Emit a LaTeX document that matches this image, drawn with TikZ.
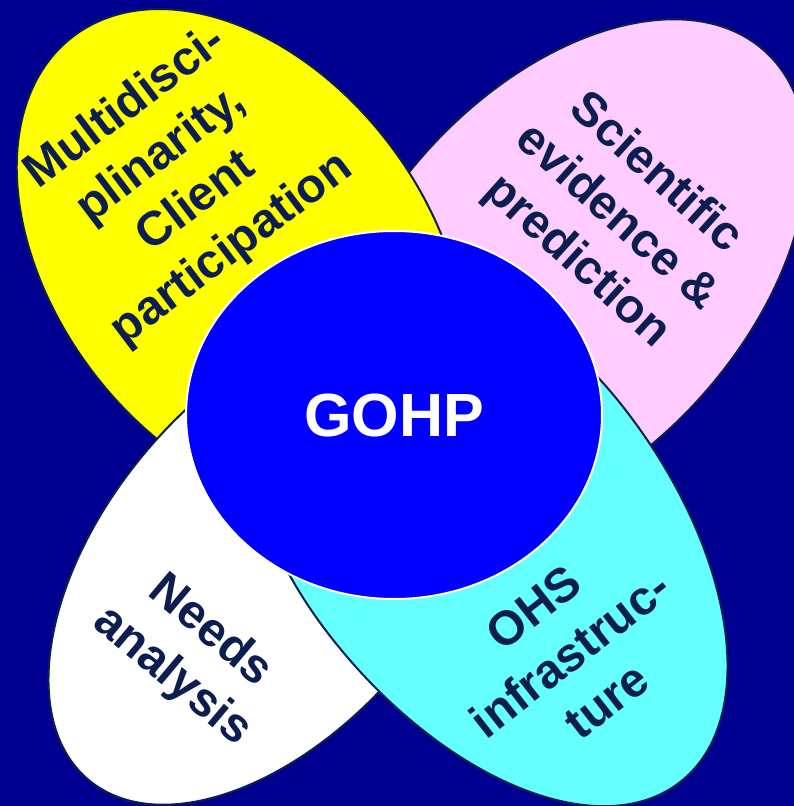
\documentclass[tikz,border=0pt]{standalone}
\usepackage{fontspec}
\setmainfont{Liberation Sans}
\usetikzlibrary{shapes.geometric}

\definecolor{bgnavy}{RGB}{0,0,144}
\definecolor{inknavy}{RGB}{12,30,80}
\definecolor{petalyellow}{RGB}{255,255,0}
\definecolor{petalpink}{RGB}{255,204,255}
\definecolor{petalcyan}{RGB}{102,255,255}
\definecolor{coreblue}{RGB}{0,0,255}

\begin{document}
\begin{tikzpicture}[x=1pt,y=-1pt,
		petal/.style={draw=inknavy,line width=2pt},
		petallabel/.style={text=inknavy,align=center,font=\bfseries\fontsize{48}{59}\selectfont}]
		
		% Background (also the page size)
		\fill[bgnavy] (0,0) rectangle (794,806);
		\clip (0,0) rectangle (794,806);
		
		% A petal: two half ellipses joined on the short axis
		\newcommand{\petalshape}[6]{% centre #1, angle #2, outer #3, inner #4, half-width #5, fill #6
			\begin{scope}[shift={#1},rotate=#2]
				\draw[petal,fill=#6] (0,-#5)
				arc[start angle=-90,end angle=90,x radius=#3,y radius=#5]
				arc[start angle=90,end angle=270,x radius=#4,y radius=#5] -- cycle;
			\end{scope}
		}
		
		% Petals, back to front: pink, yellow, white, cyan
		\petalshape{(564,274)}{48}{300}{300}{184}{petalpink}
		\petalshape{(241,258)}{127}{278}{278}{187}{petalyellow}
		\petalshape{(273,560)}{230}{287}{287}{167}{white}
		\petalshape{(477,522)}{-52}{330}{300}{186}{petalcyan}
		
		% Petal texts
		\node[petallabel,rotate=37] (multi) at (179,179) {Multidisci-\\plinarity,\\Client\\participation};
		\node[petallabel,rotate=-42] (sci) at (616,218) {Scientific\\evidence \&\\prediction};
		\node[petallabel,rotate=-40] (needs) at (191,654) {Needs\\analysis};
		\node[petallabel,rotate=38] (ohs) at (570,654) {OHS\\infrastruc-\\ture};
		
		% Centre
		\node[ellipse,draw=white,line width=2pt,fill=coreblue,
		minimum width=416pt,minimum height=368pt,inner sep=0pt,
		text=white,font=\bfseries\fontsize{61}{70}\selectfont] (gohp) at (394,415) {GOHP};
		
	\end{tikzpicture}
\end{document}
